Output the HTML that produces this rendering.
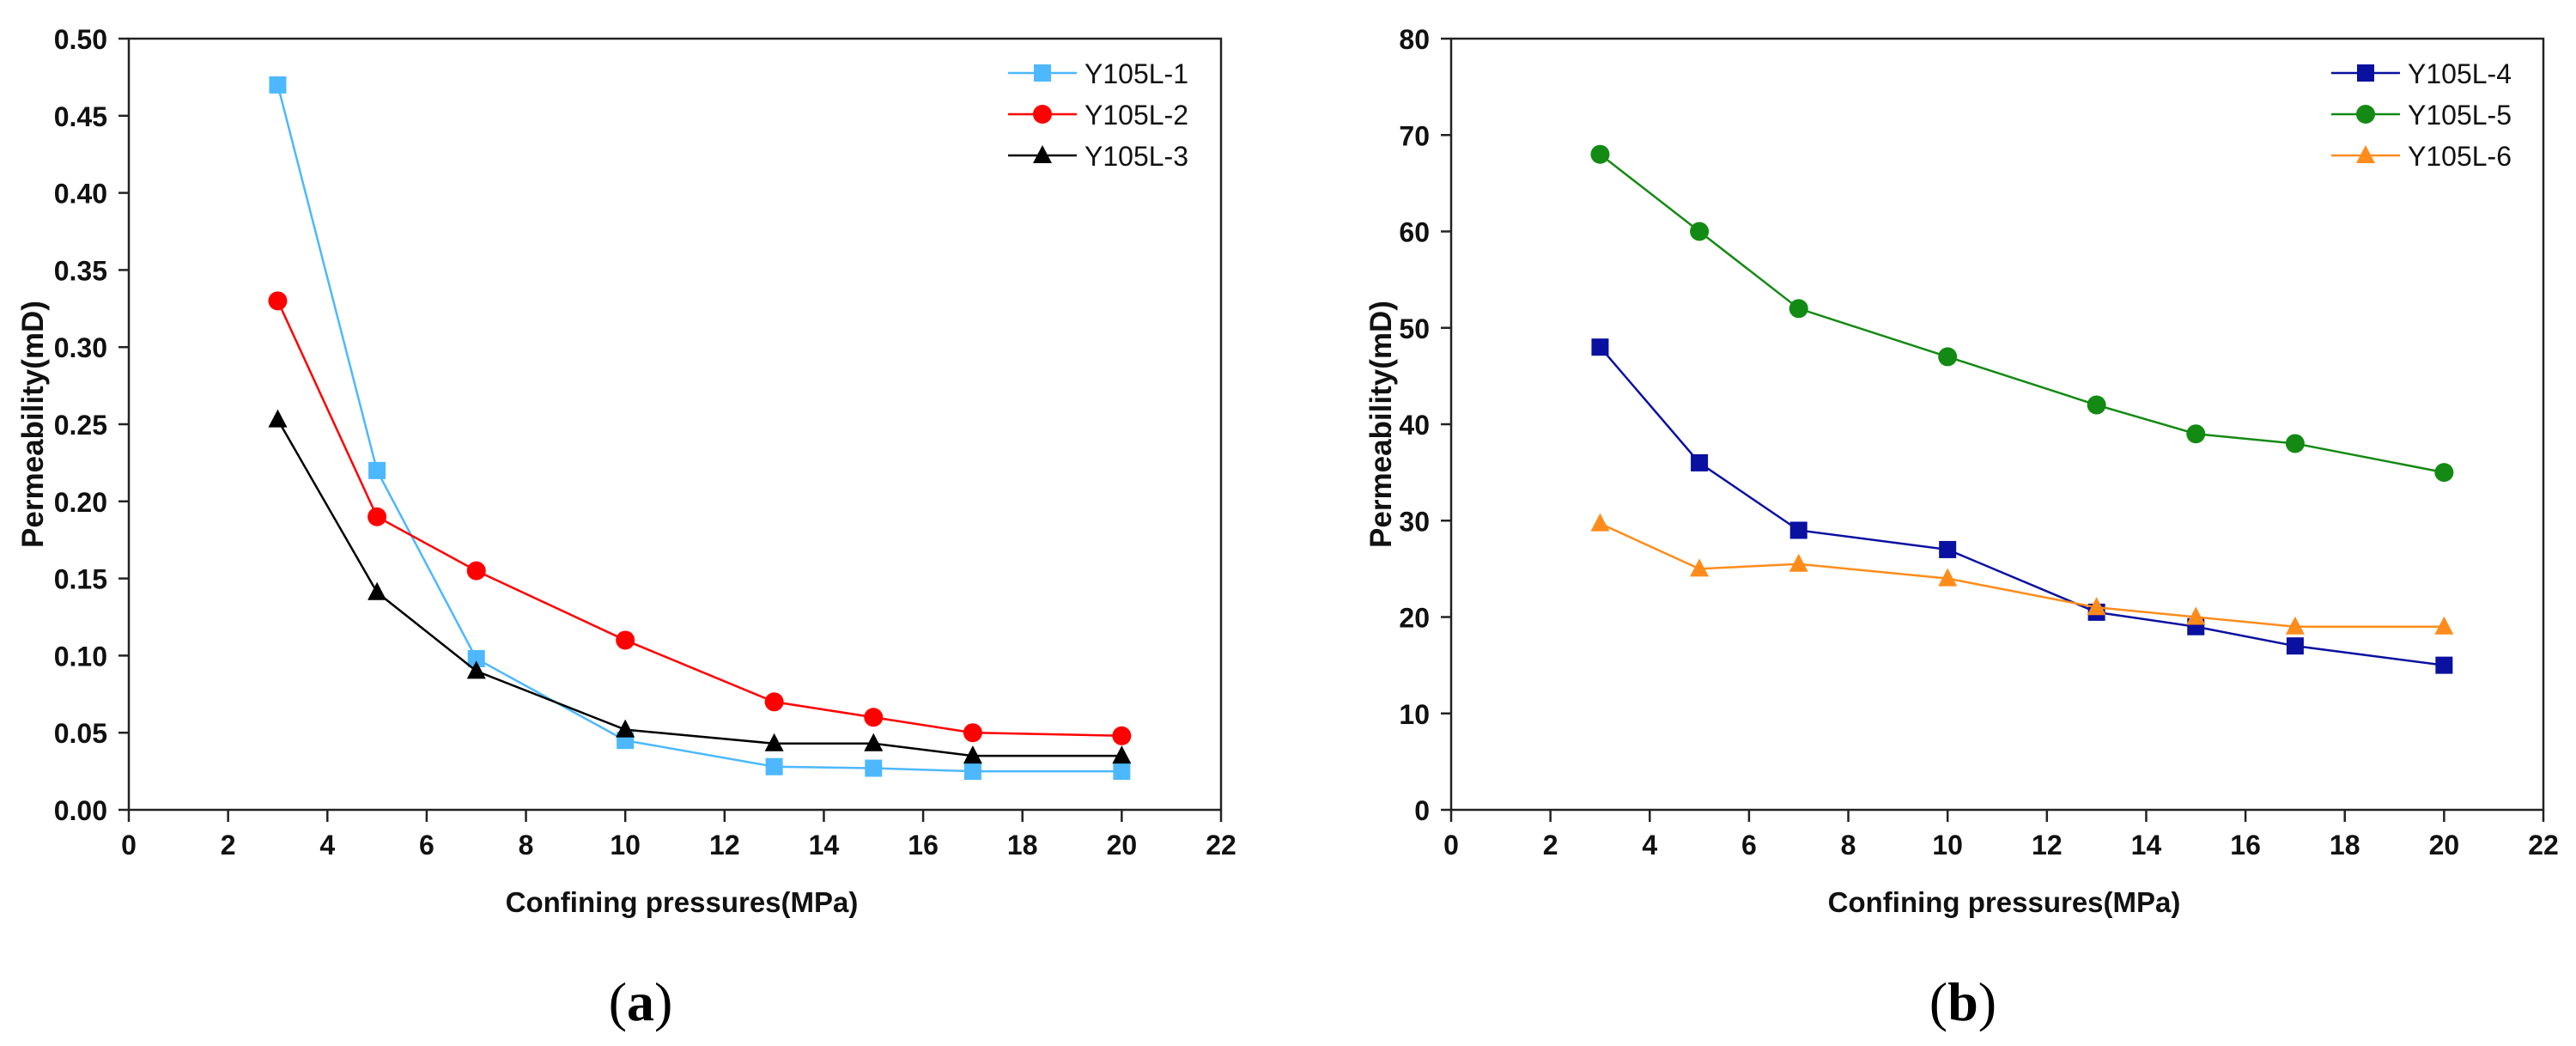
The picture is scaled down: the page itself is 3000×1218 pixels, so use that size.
<!DOCTYPE html>
<html><head><meta charset="utf-8"><style>
html,body{margin:0;padding:0;background:#fff;}
svg{display:block;}
.tick{font-family:"Liberation Sans",sans-serif;font-weight:bold;font-size:32px;fill:#111;}
.leg{font-family:"Liberation Sans",sans-serif;font-size:32px;fill:#111;}
.ytitle{font-family:"Liberation Sans",sans-serif;font-weight:bold;font-size:35px;fill:#111;}
.xtitle{font-family:"Liberation Sans",sans-serif;font-weight:bold;font-size:33px;fill:#111;}
.cap{font-family:"Liberation Serif",serif;font-size:64px;fill:#000;}
</style></head><body>
<svg id="chart" width="3000" height="1218" xmlns="http://www.w3.org/2000/svg"></svg>
<script>
const xValues = [3, 5, 7, 10, 13, 15, 17, 20];
const xTicks = [0, 2, 4, 6, 8, 10, 12, 14, 16, 18, 20, 22];
const yTicksA = [0, 0.05, 0.10, 0.15, 0.20, 0.25, 0.30, 0.35, 0.40, 0.45, 0.50];
const yTickLabelsA = ["0.00","0.05","0.10","0.15","0.20","0.25","0.30","0.35","0.40","0.45","0.50"];
const yTicksB = [0, 10, 20, 30, 40, 50, 60, 70, 80];
const yTickLabelsB = ["0","10","20","30","40","50","60","70","80"];
const seriesNamesA = ["Y105L-1", "Y105L-2", "Y105L-3"];
const y105L1 = [0.47, 0.22, 0.098, 0.045, 0.028, 0.027, 0.025, 0.025];
const y105L2 = [0.33, 0.19, 0.155, 0.11, 0.07, 0.06, 0.05, 0.048];
const y105L3 = [0.253, 0.141, 0.09, 0.052, 0.043, 0.043, 0.035, 0.035];
const seriesNamesB = ["Y105L-4", "Y105L-5", "Y105L-6"];
const y105L4 = [48, 36, 29, 27, 20.5, 19, 17, 15];
const y105L5 = [68, 60, 52, 47, 42, 39, 38, 35];
const y105L6 = [29.7, 25, 25.5, 24, 21, 20, 19, 19];

const NS = "http://www.w3.org/2000/svg";
const svg = document.getElementById("chart");
function mk(tag, attrs, parent) {
  const e = document.createElementNS(NS, tag);
  for (const k in attrs) e.setAttribute(k, attrs[k]);
  (parent || svg).appendChild(e);
  return e;
}
function marker(g, shape, cx, cy, color) {
  let m;
  if (shape === "square") m = mk("rect", {x: cx-10, y: cy-10, width: 20, height: 20, fill: color}, g);
  else if (shape === "circle") m = mk("circle", {cx: cx, cy: cy, r: 11, fill: color}, g);
  else m = mk("polygon", {points: `${cx},${cy-12} ${cx+11},${cy+9} ${cx-11},${cy+9}`, fill: color}, g);
  return m;
}
function panel(cfg) {
  const L = cfg.left, R = cfg.right, T = 45, B = 943;
  const sx = v => L + (v - 0) / 22 * (R - L);
  const sy = v => B - v / cfg.ymax * (B - T);
  const g = mk("g", {});
  
  
  const frame = mk("rect", {x: L, y: T, width: R-L, height: B-T, fill: "none", stroke: "#222", "stroke-width": 2.5}, g);
  
  
  xTicks.forEach(t => {
    const x = sx(t);
    mk("line", {x1: x, y1: B, x2: x, y2: B+14, stroke: "#222", "stroke-width": 2.5}, g);
    const tx = mk("text", {x: x, y: 995, "text-anchor": "middle", class: "tick"}, g);
    tx.textContent = t;
    
    
  });
  cfg.yticks.forEach((t, i) => {
    const y = sy(t);
    mk("line", {x1: L-12, y1: y, x2: L, y2: y, stroke: "#222", "stroke-width": 2.5}, g);
    const tx = mk("text", {x: L-25, y: y+12, "text-anchor": "end", class: "tick"}, g);
    tx.textContent = cfg.ylabels[i];
    
    
  });
  const yt = mk("text", {x: cfg.ytx, y: (T+B)/2, "text-anchor": "middle", class: "ytitle", transform: `rotate(-90 ${cfg.ytx} ${(T+B)/2})`}, g);
  yt.textContent = "Permeability(mD)";
  
  
  const xt = mk("text", {x: (L+R)/2 + 8, y: 1062, "text-anchor": "middle", class: "xtitle"}, g);
  xt.textContent = "Confining pressures(MPa)";
  
  
  const cap = mk("text", {x: (L+R)/2 - 40, y: 1188, "text-anchor": "middle", class: "cap"}, g);
  cap.innerHTML = '(<tspan font-weight="bold">' + cfg.cap + '</tspan>)';
  
  
  cfg.series.forEach((s, si) => {
    const sg = mk("g", {}, g);
    
    
    const pts = xValues.map((x, i) => sx(x) + "," + sy(s.data[i])).join(" ");
    const pl = mk("polyline", {points: pts, fill: "none", stroke: s.color, "stroke-width": 2.5}, sg);
    
    
    xValues.forEach((x, i) => {
      const m = marker(sg, s.shape, sx(x), sy(s.data[i]), s.color);
      
      
    });
    const ly = 85 + si * 48;
    const lg = mk("g", {}, g);
    
    
    mk("line", {x1: cfg.legX, y1: ly, x2: cfg.legX + 80, y2: ly, stroke: s.color, "stroke-width": 2.5}, lg);
    marker(lg, s.shape, cfg.legX + 40, ly, s.color);
    const lt = mk("text", {x: cfg.legX + 89, y: ly + 12, class: "leg"}, lg);
    lt.textContent = cfg.names[si];
  });
}
panel({name: "panel-a", left: 150, right: 1422, ymax: 0.5, yticks: yTicksA, ylabels: yTickLabelsA, ytx: 50, cap: "a", legX: 1174,
  names: seriesNamesA,
  series: [{data: y105L1, color: "#4db8ff", shape: "square"},
           {data: y105L2, color: "#ff0000", shape: "circle"},
           {data: y105L3, color: "#000000", shape: "triangle"}]});
panel({name: "panel-b", left: 1690, right: 2962, ymax: 80, yticks: yTicksB, ylabels: yTickLabelsB, ytx: 1620, cap: "b", legX: 2715,
  names: seriesNamesB,
  series: [{data: y105L4, color: "#0a10a0", shape: "square"},
           {data: y105L5, color: "#138a13", shape: "circle"},
           {data: y105L6, color: "#ff8c1a", shape: "triangle"}]});
</script>
</body></html>
